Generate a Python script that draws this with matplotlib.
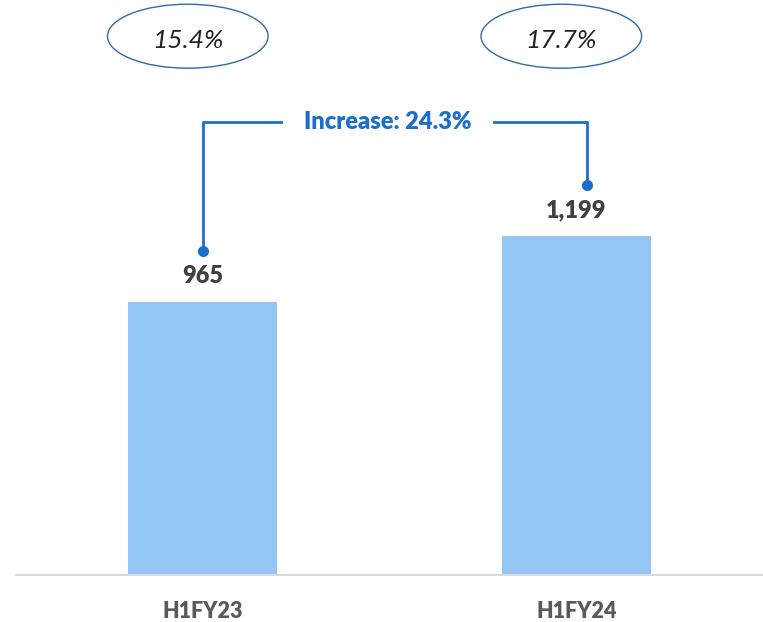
import matplotlib.pyplot as plt
from matplotlib.patches import Ellipse

plt.rcParams['font.family'] = ['Lato', 'DejaVu Sans']

categories = ['H1FY23', 'H1FY24']
values = [965, 1199]
value_labels = ['965', '1,199']
margins = ['15.4%', '17.7%']
increase_label = 'Increase: 24.3%'

bar_color = '#94C6F5'
blue = '#1A6FCE'

fig = plt.figure(figsize=(7.63, 6.22), dpi=100)
# axes: baseline at y=575px, top at figure top, left at x=16px
ax = fig.add_axes([16 / 763, 47 / 622, 747 / 763, 575 / 622])
ax.set_xlim(-0.5, 1.5)
ax.set_ylim(0, 2032)

x = list(range(len(categories)))
ax.bar(x, values, width=0.4, color=bar_color, zorder=2)

for s in ['top', 'right', 'left']:
    ax.spines[s].set_visible(False)
ax.spines['bottom'].set_color('#D9D9D9')
ax.spines['bottom'].set_linewidth(1.5)
ax.set_yticks([])
ax.set_xticks(x)
ax.set_xticklabels(categories, fontsize=15.5, fontweight='heavy', color='#595959')
ax.tick_params(axis='x', length=0, pad=19)

# value labels
for xi, v, lab in zip(x, values, value_labels):
    ax.text(xi, v + 90, lab, ha='center', va='center', fontsize=17,
            fontweight='heavy', color='#404040')

# increase bracket
dot_y = [v + 180 for v in values]
top_y = 1601
ax.plot([x[0], x[0], 0.21], [dot_y[0], top_y, top_y], color=blue, lw=2, clip_on=False)
ax.plot([0.78, x[1] + 0.03, x[1] + 0.03], [top_y, top_y, dot_y[1]], color=blue, lw=2, clip_on=False)
ax.plot([x[0], x[1] + 0.03], dot_y, 'o', color=blue, ms=7, clip_on=False)
ax.text(0.495, top_y, increase_label, ha='center', va='center', fontsize=17,
        fontweight='heavy', color=blue)

# margin ellipses
for xi, m in zip(x, margins):
    cx = xi - 0.04
    ax.add_patch(Ellipse((cx, 1904), 0.43, 226, fill=False, edgecolor='#2E6AAE',
                         lw=1, clip_on=False))
    ax.text(cx, 1890, m, ha='center', va='center', fontsize=19, style='italic',
            color='#222222')

fig.savefig('out.png', dpi=100)
